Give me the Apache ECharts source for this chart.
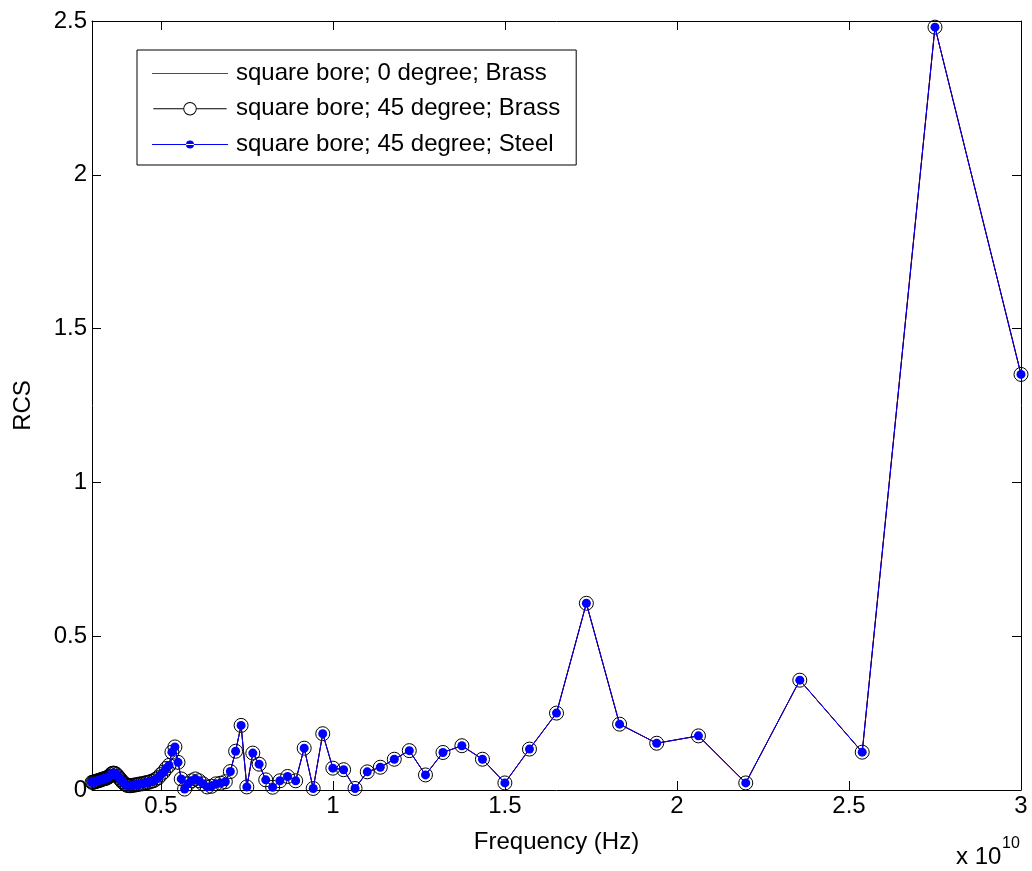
<!DOCTYPE html>
<html>
<head>
<meta charset="utf-8">
<script src="https://cdn.jsdelivr.net/npm/echarts@6/dist/echarts.min.js"></script>
<style>
html,body{margin:0;padding:0;background:#fff;}
#chart{width:1032px;height:871px;}
</style>
</head>
<body>
<div id="chart"></div>
<script>
// Frequency in units of 1e10 Hz
const freq = [3.0, 2.75, 2.5385, 2.3571, 2.2, 2.0625, 1.9412, 1.8333, 1.7368, 1.65,
  1.5714, 1.5, 1.4348, 1.375, 1.32, 1.2692, 1.2222, 1.1786, 1.1379, 1.1,
  1.0645, 1.0313, 1.0, 0.9706, 0.9429, 0.9167, 0.8919, 0.8684, 0.8462, 0.825,
  0.8049, 0.7857, 0.7674, 0.75, 0.7333, 0.7174, 0.7021, 0.6875, 0.6735, 0.66,
  0.6471, 0.6346, 0.6226, 0.6111, 0.6, 0.5893, 0.5789, 0.569, 0.5593, 0.55,
  0.541, 0.5323, 0.5238, 0.5156, 0.5077, 0.5, 0.4925, 0.4853, 0.4783, 0.4714,
  0.4648, 0.4583, 0.4521, 0.4459, 0.44, 0.4342, 0.4286, 0.4231, 0.4177, 0.4125,
  0.4074, 0.4024, 0.3976, 0.3929, 0.3882, 0.3837, 0.3793, 0.375, 0.3708, 0.3667,
  0.3626, 0.3587, 0.3548, 0.3511, 0.3474, 0.3438, 0.3402, 0.3367, 0.3333, 0.33,
  0.3267, 0.3235, 0.3204, 0.3173, 0.3143, 0.3113, 0.3084, 0.3056, 0.3028, 0.3];

const rcsBrass0 = [1.351, 2.48, 0.123, 0.357, 0.023, 0.176, 0.152, 0.214, 0.607, 0.25,
  0.133, 0.023, 0.1, 0.144, 0.122, 0.049, 0.128, 0.1, 0.074, 0.059,
  0.005, 0.066, 0.071, 0.183, 0.005, 0.136, 0.03, 0.044, 0.03, 0.009,
  0.033, 0.084, 0.12, 0.01, 0.21, 0.126, 0.06, 0.027, 0.022, 0.02,
  0.012, 0.01, 0.02, 0.03, 0.036, 0.03, 0.02, 0.003, 0.036, 0.09,
  0.14, 0.123, 0.08, 0.07, 0.058, 0.05, 0.04, 0.035, 0.03, 0.028,
  0.025, 0.024, 0.022, 0.02, 0.02, 0.018, 0.017, 0.016, 0.015, 0.014,
  0.014, 0.015, 0.018, 0.022, 0.027, 0.033, 0.039, 0.045, 0.05, 0.054,
  0.055, 0.054, 0.05, 0.045, 0.042, 0.04, 0.038, 0.037, 0.036, 0.035,
  0.034, 0.032, 0.031, 0.03, 0.029, 0.028, 0.027, 0.026, 0.025, 0.025];

const rcsBrass45 = [1.351, 2.48, 0.123, 0.357, 0.023, 0.176, 0.152, 0.214, 0.607, 0.25,
  0.133, 0.023, 0.1, 0.144, 0.122, 0.049, 0.128, 0.1, 0.074, 0.059,
  0.005, 0.066, 0.071, 0.183, 0.005, 0.136, 0.03, 0.044, 0.03, 0.009,
  0.033, 0.084, 0.12, 0.01, 0.21, 0.126, 0.06, 0.027, 0.022, 0.02,
  0.012, 0.01, 0.02, 0.03, 0.036, 0.03, 0.02, 0.003, 0.036, 0.09,
  0.14, 0.123, 0.08, 0.07, 0.058, 0.05, 0.04, 0.035, 0.03, 0.028,
  0.025, 0.024, 0.022, 0.02, 0.02, 0.018, 0.017, 0.016, 0.015, 0.014,
  0.014, 0.015, 0.018, 0.022, 0.027, 0.033, 0.039, 0.045, 0.05, 0.054,
  0.055, 0.054, 0.05, 0.045, 0.042, 0.04, 0.038, 0.037, 0.036, 0.035,
  0.034, 0.032, 0.031, 0.03, 0.029, 0.028, 0.027, 0.026, 0.025, 0.025];

const rcsSteel45 = [1.351, 2.48, 0.123, 0.357, 0.023, 0.176, 0.152, 0.214, 0.607, 0.25,
  0.133, 0.023, 0.1, 0.144, 0.122, 0.049, 0.128, 0.1, 0.074, 0.059,
  0.005, 0.066, 0.071, 0.183, 0.005, 0.136, 0.03, 0.044, 0.03, 0.009,
  0.033, 0.084, 0.12, 0.01, 0.21, 0.126, 0.06, 0.027, 0.022, 0.02,
  0.012, 0.01, 0.02, 0.03, 0.036, 0.03, 0.02, 0.003, 0.036, 0.09,
  0.14, 0.123, 0.08, 0.07, 0.058, 0.05, 0.04, 0.035, 0.03, 0.028,
  0.025, 0.024, 0.022, 0.02, 0.02, 0.018, 0.017, 0.016, 0.015, 0.014,
  0.014, 0.015, 0.018, 0.022, 0.027, 0.033, 0.039, 0.045, 0.05, 0.054,
  0.055, 0.054, 0.05, 0.045, 0.042, 0.04, 0.038, 0.037, 0.036, 0.035,
  0.034, 0.032, 0.031, 0.03, 0.029, 0.028, 0.027, 0.026, 0.025, 0.025];

const xTicks = [0.5, 1, 1.5, 2, 2.5, 3];
const yTicks = [0, 0.5, 1, 1.5, 2, 2.5];
const seriesNames = ['square bore; 0 degree; Brass', 'square bore; 45 degree; Brass', 'square bore; 45 degree; Steel'];

const FONT = '"Liberation Sans", Arial, Helvetica, sans-serif';
const FS = 24;
const pairs = (ys) => freq.map((f, i) => [f, ys[i]]);

// legend icons (line + marker shapes), boxed to 76x14 by tiny corner anchors
const anchors = 'M0,0 H0.01 V0.01 H0 Z M75.99,13.99 H76 V14 H75.99 Z ';
const iconLine = 'path://' + anchors + 'M0,7 H76 V8 H0 Z';
const iconOpen = 'path://' + anchors + 'M0,7 H31 V8 H0 Z M45,7 H76 V8 H45 Z ' +
  'M31,7.5 A7,7 0 1,1 45,7.5 A7,7 0 1,1 31,7.5 Z M32,7.5 A6,6 0 1,0 44,7.5 A6,6 0 1,0 32,7.5 Z';
const iconDot = 'path://' + anchors + 'M0,7 H76 V8 H0 Z M34,7.5 A4,4 0 1,0 42,7.5 A4,4 0 1,0 34,7.5 Z';

const chart = echarts.init(document.getElementById('chart'), null, {renderer: 'canvas'});

const axisCommon = {
  axisLine: {show: true, onZero: false, lineStyle: {color: '#000', width: 1}},
  splitLine: {show: false},
};

chart.setOption({
  backgroundColor: '#fff',
  animation: false,
  grid: {left: 92, right: 11, top: 21, bottom: 81, containLabel: false},
  xAxis: [{
    ...axisCommon,
    type: 'value', position: 'bottom', min: 0.3, max: 3,
    axisTick: {show: true, inside: true, length: 9, lineStyle: {color: '#000'}, customValues: xTicks},
    axisLabel: {show: true, color: '#000', fontFamily: FONT, fontSize: FS, margin: 4, customValues: xTicks,
      formatter: (v) => String(v)},
    name: 'Frequency (Hz)', nameLocation: 'middle', nameGap: 40, nameMoveOverlap: false,
    nameTextStyle: {color: '#000', fontFamily: FONT, fontSize: FS, verticalAlign: 'top'}
  }, {
    ...axisCommon,
    type: 'value', position: 'top', min: 0.3, max: 3,
    axisTick: {show: true, inside: true, length: 9, lineStyle: {color: '#000'}, customValues: xTicks},
    axisLabel: {show: false}
  }],
  yAxis: [{
    ...axisCommon,
    type: 'value', position: 'left', min: 0, max: 2.5, interval: 0.5,
    axisTick: {show: true, inside: true, length: 9, lineStyle: {color: '#000'}},
    axisLabel: {show: true, color: '#000', fontFamily: FONT, fontSize: FS, margin: 5,
      formatter: (v) => String(v)},
    name: 'RCS', nameLocation: 'middle', nameGap: 57, nameRotate: 90, nameMoveOverlap: false,
    nameTextStyle: {color: '#000', fontFamily: FONT, fontSize: FS}
  }, {
    ...axisCommon,
    type: 'value', position: 'right', min: 0, max: 2.5, interval: 0.5,
    axisTick: {show: true, inside: true, length: 9, lineStyle: {color: '#000'}},
    axisLabel: {show: false}
  }],
  legend: {
    orient: 'vertical', left: 137, top: 50,
    padding: [11, 16, 9, 15], itemGap: 11.5,
    itemWidth: 76, itemHeight: 14,
    backgroundColor: '#fff', borderColor: '#000', borderWidth: 1, borderRadius: 0,
    textStyle: {color: '#000', fontFamily: FONT, fontSize: FS, lineHeight: 24, padding: [0, 0, 0, 3]},
    data: [
      {name: seriesNames[0], icon: iconLine, itemStyle: {color: '#ff0000', borderWidth: 0}},
      {name: seriesNames[1], icon: iconOpen, itemStyle: {color: '#000000', borderWidth: 0}},
      {name: seriesNames[2], icon: iconDot, itemStyle: {color: '#0000ff', borderWidth: 0}}
    ],
    selectedMode: false
  },
  series: [{
    name: seriesNames[0], type: 'line', xAxisIndex: 0, yAxisIndex: 0,
    data: pairs(rcsBrass0),
    symbol: 'none', showSymbol: false,
    lineStyle: {color: '#ff0000', width: 1}, itemStyle: {color: '#ff0000'},
    z: 2
  }, {
    name: seriesNames[1], type: 'line', xAxisIndex: 0, yAxisIndex: 0,
    data: pairs(rcsBrass45),
    symbol: 'circle', symbolSize: 14, showAllSymbol: true,
    lineStyle: {color: '#000000', width: 1},
    itemStyle: {color: 'rgba(0,0,0,0)', borderColor: '#000', borderWidth: 1},
    z: 3
  }, {
    name: seriesNames[2], type: 'line', xAxisIndex: 0, yAxisIndex: 0,
    data: pairs(rcsSteel45),
    symbol: 'circle', symbolSize: 9, showAllSymbol: true,
    lineStyle: {color: '#0000ff', width: 1},
    itemStyle: {color: '#0000ff', borderWidth: 0},
    z: 4
  }],
  graphic: [{
    type: 'text', left: 956, top: 845,
    style: {text: 'x 10', fontFamily: FONT, fontSize: FS, fill: '#000'}
  }, {
    type: 'text', left: 1002, top: 836,
    style: {text: '10', fontFamily: FONT, fontSize: 16, fill: '#000'}
  }]
});
</script>
</body>
</html>
